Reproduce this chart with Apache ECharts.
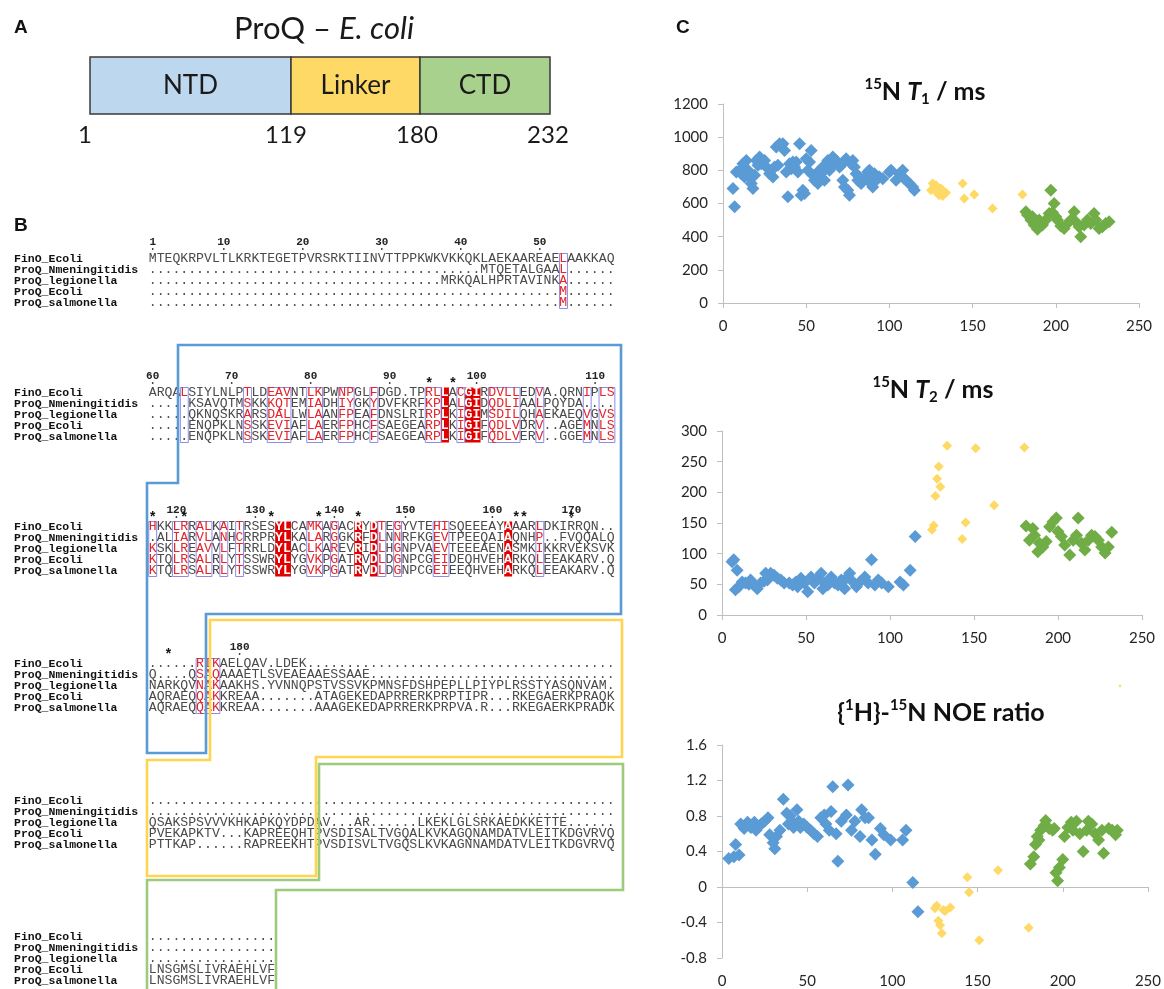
<!DOCTYPE html>
<html><head><meta charset="utf-8">
<script src="https://cdn.jsdelivr.net/npm/echarts/dist/echarts.min.js"></script>
<style>html,body{margin:0;padding:0;background:#fff}#c{width:1164px;height:989px}</style>
</head><body><div id="c"></div>
<script>
// ---------------- DATA ----------------
// Panel A domains
const domainNames = ['NTD', 'Linker', 'CTD'];
const domainLimits = ['1', '119', '180', '232'];
const domainColors = ['#BDD7EE', '#FFD966', '#A9D18E'];

// Panel B alignment
const seqNames = ['FinO_Ecoli', 'ProQ_Nmeningitidis', 'ProQ_legionella', 'ProQ_Ecoli', 'ProQ_salmonella'];
const D10 = '..........';
const blk1 = [
  'MTEQKRPVLTLKRKTEGETPVRSRKTIINVTTPPKWKVKKQKLAEKAAREAELAAKKAQ',
  D10 + D10 + D10 + D10 + '..' + 'MTQETALGAAL' + '......',
  D10 + D10 + D10 + '.......' + 'MRKQALHPRTAVINKA' + '......',
  D10 + D10 + D10 + D10 + D10 + '..' + 'M' + '......',
  D10 + D10 + D10 + D10 + D10 + '..' + 'M' + '......'
];
const blk1Nums = [['1', 1], ['10', 10], ['20', 20], ['30', 30], ['40', 40], ['50', 50]];
const blk1Stars = [];
const blk1Solid = [];
const blk1Boxes = [[53, 53]];

const blk2 = [
  'ARQALSIYLNLPTLDEAVNTLKPWNPGLFDGD.TPRLLACGIRDVLLEDVA.QRNIPLS',
  '.....KSAVQTMSKKKQTEMIADHIYGKYDVFKRFKPLALGIDQDLIAALPQYDA....',
  '.....QKNQSKRARSDALLWLAANFPEAFDNSLRIRPLKIGIMSDILQHAEKAEQVGVS',
  '.....ENQPKLNSSKEVIAFLAERFPHCFSAEGEARPLKIGIFQDLVDRV..AGEMNLS',
  '.....ENQPKLNSSKEVIAFLAERFPHCFSAEGEARPLKIGIFQDLVERV..GGEMNLS'
];
const blk2Nums = [['60', 1], ['70', 11], ['80', 21], ['90', 31], ['100', 42], ['110', 57]];
const blk2Stars = [36, 39];
const blk2Solid = [[38, 38], [41, 42]];
const blk2Boxes = [[5, 5], [13, 13], [16, 18], [21, 22], [25, 26], [29, 29], [36, 37], [40, 40], [44, 47], [50, 50], [56, 56], [58, 59]];

const blk3 = [
  'HKKLRRALKAITRSESYLCAMKAGACRYDTEGYVTEHISQEEEAYAAARLDKIRRQN..',
  '.ALIARVLANHCRRPRYLKALARGGKRFDLNNRFKGEVTPEEQAIAQNHP..FVQQALQ',
  'KSKLREAVVLFTRRLDYLACLKAREVRIDLHGNPVAEVTEEEAENASMKIKKRVEKSVK',
  'KTQLRSALRLYTSSWRYLYGVKPGATRVDLDGNPCGEIDEQHVEHARKQLEEAKARV.Q',
  'KTQLRSALRLYTSSWRYLYGVKPGATRVDLDGNPCGEIEEQHVEHARKQLEEAKARV.Q'
];
const blk3Nums = [['120', 4], ['130', 14], ['140', 24], ['150', 33], ['160', 44], ['170', 54]];
const blk3Stars = [1, 5, 16, 22, 27, 47, 48, 54];
const blk3Solid = [[17, 18], [27, 27], [29, 29], [46, 46]];
const blk3Boxes = [[1, 1], [4, 5], [7, 8], [10, 10], [12, 12], [21, 22], [24, 24], [30, 30], [32, 32], [37, 38], [50, 50]];

const blk4 = [
  '......RIKAELQAV.LDEK' + D10 + D10 + D10 + '.........',
  'Q....QSAQAAAETLSVEAEAAESSAAE' + D10 + D10 + D10 + '.',
  'NARKQVNAKAAKHS.YVNNQPSTVSSVKPMNSFDSHPEPLLPIYPLRSSTYASQNVAM.',
  'AQRAEQQAKKREAA.......ATAGEKEDAPRRERKPRPTIPR...RKEGAERKPRAQK',
  'AQRAEQQAKKREAA.......AAAGEKEDAPRRERKPRPVA.R...RKEGAERKPRADK'
];
const blk4Nums = [['180', 12]];
const blk4Stars = [3];
const blk4Solid = [];
const blk4Boxes = [[7, 9]];

const blk5 = [
  D10 + D10 + D10 + D10 + D10 + '.........',
  D10 + D10 + D10 + D10 + D10 + '.........',
  'QSAKSPSVVVKHKAPKQYDPDAV...AR......LKEKLGLSRKAEDKKETTE......',
  'PVEKAPKTV...KAPREEQHTPVSDISALTVGQALKVKAGQNAMDATVLEITKDGVRVQ',
  'PTTKAP......RAPREEKHTPVSDISVLTVGQSLKVKAGNNAMDATVLEITKDGVRVQ'
];
const blk6 = [
  D10 + '......', D10 + '......', D10 + '......',
  'LNSGMSLIVRAEHLVF', 'LNSGMSLIVRAEHLVF'
];

// Panel C : [residue, value]
const t1Ntd = [[6,690],[7,580],[8,790],[10,800],[11,780],[12,840],[13,760],[14,860],[15,800],[16,760],[17,720],[18,690],[19,770],[20,860],[21,830],[22,880],[23,840],[25,860],[26,820],[28,780],[29,800],[30,760],[31,820],[32,940],[33,830],[34,960],[35,950],[36,960],[37,920],[38,790],[39,640],[40,840],[41,810],[42,850],[43,820],[44,850],[45,790],[46,960],[47,650],[48,680],[49,660],[50,870],[51,800],[52,850],[53,920],[54,770],[55,740],[56,760],[57,720],[58,800],[59,780],[60,820],[61,740],[62,840],[63,860],[64,800],[65,860],[66,880],[67,840],[68,860],[70,820],[71,830],[72,740],[73,700],[74,870],[75,680],[76,650],[77,840],[78,860],[79,820],[80,780],[81,740],[82,760],[83,720],[84,740],[86,760],[87,790],[88,800],[89,720],[90,700],[91,780],[92,740],[93,760],[94,760],[96,750],[100,790],[101,800],[104,740],[106,780],[108,800],[109,750],[110,740],[112,720],[114,700],[115,680]];
const t1Linker = [[125,680],[126,720],[127,700],[128,710],[129,660],[130,650],[131,690],[132,645],[134,665],[144,720],[145,630],[151,655],[162,570],[180,655]];
const t1Ctd = [[182,550],[183,530],[185,500],[186,520],[187,470],[189,445],[190,500],[192,470],[194,500],[196,540],[197,680],[198,545],[199,600],[200,520],[201,500],[203,465],[205,450],[207,480],[209,500],[211,550],[212,490],[214,460],[215,400],[217,470],[219,500],[221,480],[223,540],[224,500],[226,450],[228,460],[230,480],[232,490]];

const t2Ntd = [[6,87],[7,90],[8,41],[9,73],[10,46],[12,54],[14,52],[16,50],[17,57],[19,49],[21,43],[23,52],[25,55],[26,68],[27,57],[29,68],[31,65],[33,60],[35,57],[37,52],[40,52],[42,49],[44,54],[45,46],[47,60],[49,52],[51,38],[53,62],[55,52],[57,60],[59,68],[60,43],[61,52],[63,49],[65,62],[67,52],[69,49],[71,57],[72,46],[73,43],[74,60],[76,68],[78,54],[80,46],[82,54],[85,62],[87,52],[89,90],[91,49],[93,57],[95,52],[99,46],[106,54],[108,49],[112,73],[115,128]];
const t2Linker = [[125,139],[126,146],[127,194],[128,222],[129,242],[130,209],[134,276],[143,124],[145,151],[151,272],[162,179],[180,273]];
const t2Ctd = [[181,145],[183,122],[185,141],[186,130],[188,103],[189,117],[191,111],[193,120],[195,144],[197,152],[199,158],[200,136],[202,128],[204,114],[207,98],[209,122],[211,130],[212,158],[214,117],[216,106],[218,122],[220,130],[222,128],[224,122],[226,111],[228,101],[230,111],[232,135]];

const noeNtd = [[4,0.32],[7,0.34],[8,0.48],[10,0.36],[11,0.71],[13,0.66],[14,0.69],[15,0.73],[17,0.67],[19,0.73],[20,0.64],[21,0.67],[23,0.71],[25,0.74],[27,0.78],[28,0.59],[30,0.50],[31,0.43],[32,0.57],[34,0.64],[36,0.99],[38,0.83],[39,0.71],[40,0.80],[41,0.74],[42,0.67],[44,0.87],[45,0.74],[46,0.67],[48,0.71],[50,0.67],[52,0.64],[54,0.60],[56,0.57],[58,0.78],[60,0.81],[61,0.71],[63,0.64],[64,0.85],[65,1.13],[67,0.60],[68,0.29],[70,0.74],[73,0.81],[74,1.15],[76,0.64],[78,0.74],[81,0.57],[82,0.87],[84,0.78],[86,0.78],[88,0.53],[90,0.37],[93,0.66],[95,0.59],[99,0.53],[106,0.53],[108,0.64],[112,0.05],[115,-0.28]];
const noeLinker = [[125,-0.24],[126,-0.21],[127,-0.38],[128,-0.43],[129,-0.52],[130,-0.26],[131,-0.27],[134,-0.23],[144,0.11],[145,-0.06],[151,-0.60],[162,0.19],[180,-0.46]];
const noeCtd = [[181,0.26],[183,0.34],[184,0.48],[185,0.57],[186,0.53],[187,0.64],[189,0.69],[190,0.75],[192,0.66],[194,0.64],[195,0.66],[196,0.16],[197,0.07],[198,0.22],[200,0.31],[201,0.57],[203,0.67],[205,0.73],[206,0.64],[208,0.74],[210,0.60],[212,0.40],[214,0.64],[215,0.74],[217,0.71],[219,0.60],[221,0.53],[223,0.64],[224,0.38],[227,0.66],[229,0.64],[231,0.59],[232,0.64]];

const xTicks = {min: 0, max: 250, interval: 50};
const t1Axis = {min: 0, max: 1200, interval: 200};
const t2Axis = {min: 0, max: 300, interval: 50};
const noeAxis = {min: -0.8, max: 1.6, interval: 0.4};

// ---------------- LAYOUT ----------------
const MONO = "'Liberation Mono','DejaVu Sans Mono',monospace";
const SANS = "Lato, 'Open Sans', sans-serif";
const ARIAL = "'Liberation Sans', Arial, sans-serif";
const CW = 7.9, X0 = 148.75, ROW = 11, FS = 13.17;
const blockTops = [259, 393, 527, 664, 801, 937];
const g = [];

function colX(c) { return X0 + (c - 0.5) * CW; }
function inR(c, rs) { return rs.some(r => c >= r[0] && c <= r[1]); }

// panel letters
[['A', 14, 28], ['B', 14, 226], ['C', 676, 28]].forEach(p => g.push({
  type: 'text', x: p[1], y: p[2], silent: true,
  style: {text: p[0], fontSize: 19, fontWeight: 'bold', fontFamily: ARIAL, fill: '#111', align: 'left', verticalAlign: 'middle'}
}));

// Panel A
const barEdges = [90, 291, 420, 550];
const barTop = 57, barH = 57;
g.push({type: 'text', x: 324, y: 29, silent: true, style: {
  text: '{n|ProQ – }{i|E. coli}', align: 'center', verticalAlign: 'middle',
  rich: {n: {fontSize: 31, fontFamily: SANS, fill: '#1a1a1a'}, i: {fontSize: 31, fontFamily: SANS, fontStyle: 'italic', fill: '#1a1a1a'}}
}});
domainNames.forEach((nm, i) => {
  g.push({type: 'rect', silent: true, shape: {x: barEdges[i], y: barTop, width: barEdges[i + 1] - barEdges[i], height: barH},
    style: {fill: domainColors[i], stroke: '#3a3a3a', lineWidth: 1.5}});
  g.push({type: 'text', silent: true, x: (barEdges[i] + barEdges[i + 1]) / 2, y: barTop + barH / 2,
    style: {text: nm, fontSize: 26, fontFamily: SANS, fill: '#1a1a1a', align: 'center', verticalAlign: 'middle'}});
});
domainLimits.forEach((t, i) => g.push({type: 'text', silent: true, x: [85, 286, 417, 548][i], y: 135,
  style: {text: t, fontSize: 24, fontFamily: SANS, fill: '#1a1a1a', align: 'center', verticalAlign: 'middle'}}));

// Panel B domain outlines
const outlines = [
  {c: '#5B9BD5', p: [[178,345],[621,345],[621,614],[206,614],[206,753],[147,753],[147,483],[178,483]]},
  {c: '#FFD54F', p: [[210,620],[622,620],[622,757],[316,757],[316,876],[147,876],[147,760],[210,760]]},
  {c: '#9CCB7C', p: [[319,764],[623,764],[623,890],[276,890],[276,999],[147,999],[147,880],[319,880]]}
];

function richRow(str, solid, boxes) {
  let out = '', cur = null, buf = '';
  for (let i = 0; i < str.length; i++) {
    const c = i + 1, ch = str[i];
    const t = inR(c, solid) ? 'w' : (inR(c, boxes) && ch !== '.' ? 'r' : 'n');
    if (t !== cur) { if (buf) out += '{' + cur + '|' + buf + '}'; buf = ''; cur = t; }
    buf += ch;
  }
  if (buf) out += '{' + cur + '|' + buf + '}';
  return out;
}
const richStyles = {
  n: {fontSize: FS, fontFamily: MONO, fontWeight: 'normal', fill: '#4a4a4a'},
  r: {fontSize: FS, fontFamily: MONO, fontWeight: 'normal', fill: '#e3262b'},
  w: {fontSize: FS, fontFamily: MONO, fontWeight: 'bold', fill: '#ffffff'}
};

function drawBlock(top, rows, nums, stars, solid, boxes) {
  const y0 = top - ROW / 2, h = ROW * rows.length;
  solid.forEach(r => g.push({type: 'rect', silent: true, z: 1,
    shape: {x: X0 + (r[0] - 1) * CW, y: y0, width: (r[1] - r[0] + 1) * CW, height: h},
    style: {fill: '#e00000'}}));
  boxes.forEach(r => g.push({type: 'rect', silent: true, z: 2,
    shape: {x: X0 + (r[0] - 1) * CW, y: y0, width: (r[1] - r[0] + 1) * CW, height: h},
    style: {fill: 'none', stroke: '#8c8ce6', lineWidth: 1}}));
  rows.forEach((s, i) => {
    g.push({type: 'text', silent: true, z: 3, x: 14, y: top + i * ROW,
      style: {text: seqNames[i], fontSize: 11.5, fontWeight: 'bold', fontFamily: MONO, fill: '#111', align: 'left', verticalAlign: 'middle'}});
    g.push({type: 'text', silent: true, z: 3, x: X0, y: top + i * ROW,
      style: {text: richRow(s, solid, boxes), rich: richStyles, fontSize: FS, fontFamily: MONO, fill: '#4a4a4a', align: 'left', verticalAlign: 'middle'}});
  });
  nums.forEach(n => {
    g.push({type: 'text', silent: true, z: 3, x: colX(n[1]), y: top - 17,
      style: {text: n[0], fontSize: 11, fontWeight: 'bold', fontFamily: MONO, fill: '#222', align: 'center', verticalAlign: 'middle'}});
    g.push({type: 'circle', silent: true, z: 3, shape: {cx: colX(n[1]), cy: top - 10, r: 0.9}, style: {fill: '#333'}});
  });
  stars.forEach(c => g.push({type: 'text', silent: true, z: 3, x: colX(c), y: top - 9,
    style: {text: '*', fontSize: 14, fontWeight: 'bold', fontFamily: MONO, fill: '#111', align: 'center', verticalAlign: 'middle'}}));
}
drawBlock(blockTops[0], blk1, blk1Nums, blk1Stars, blk1Solid, blk1Boxes);
drawBlock(blockTops[1], blk2, blk2Nums, blk2Stars, blk2Solid, blk2Boxes);
drawBlock(blockTops[2], blk3, blk3Nums, blk3Stars, blk3Solid, blk3Boxes);
drawBlock(blockTops[3], blk4, blk4Nums, blk4Stars, blk4Solid, blk4Boxes);
drawBlock(blockTops[4], blk5, [], [], [], []);
drawBlock(blockTops[5], blk6, [], [], [], []);

outlines.forEach(o => g.push({type: 'polygon', silent: true, z: 5, shape: {points: o.p},
  style: {fill: 'none', stroke: o.c, lineWidth: 2.6}}));

// Panel C titles
const TF = 25, TS = 15;
const tRich = {
  b: {fontSize: TF, fontWeight: 'bold', fontFamily: SANS, fill: '#111', lineHeight: 30, verticalAlign: 'middle'},
  i: {fontSize: TF, fontWeight: 'bold', fontStyle: 'italic', fontFamily: SANS, fill: '#111', lineHeight: 30, verticalAlign: 'middle'},
  s: {fontSize: TS, fontWeight: 'bold', fontFamily: SANS, fill: '#111', lineHeight: 17, verticalAlign: 'top'},
  d: {fontSize: TS, fontWeight: 'bold', fontFamily: SANS, fill: '#111', lineHeight: 15, verticalAlign: 'bottom'}
};
[['{s|15}{b|N }{i|T}{d|1}{b| / ms}', 925, 92],
 ['{s|15}{b|N }{i|T}{d|2}{b| / ms}', 933, 390],
 ['{b|{}{s|1}{b|H}}-{s|15}{b|N NOE ratio}', 941, 713]].forEach(t => g.push({
  type: 'text', silent: true, x: t[1], y: t[2],
  style: {text: t[0], rich: tRich, align: 'center', verticalAlign: 'middle',
    fontSize: TF, fontWeight: 'bold', fontFamily: SANS, fill: '#111', lineHeight: 30}
}));
g.push({type: 'circle', silent: true, shape: {cx: 1120, cy: 686, r: 1.3}, style: {fill: '#FFD966'}});

// ---------------- CHART ----------------
const axisCommon = {
  type: 'value',
  axisLine: {show: true, lineStyle: {color: '#bfbfbf', width: 1}},
  axisTick: {show: true, length: 5, lineStyle: {color: '#bfbfbf'}},
  splitLine: {show: false},
  axisLabel: {color: '#262626', fontSize: 15, fontFamily: SANS, margin: 16}
};
const grids = [
  {left: 723, top: 104, width: 416, height: 199},
  {left: 722, top: 431, width: 420, height: 184},
  {left: 722, top: 745, width: 428, height: 228}
];
const yRanges = [t1Axis, t2Axis, noeAxis];
const cols = {ntd: '#5B9BD5', lnk: '#FFD966', ctd: '#70AD47'};
const sets = [[t1Ntd, t1Linker, t1Ctd], [t2Ntd, t2Linker, t2Ctd], [noeNtd, noeLinker, noeCtd]];
const series = [];
sets.forEach((s, i) => {
  [['ntd', 13], ['lnk', 10], ['ctd', 13]].forEach((k, j) => series.push({
    type: 'scatter', xAxisIndex: i, yAxisIndex: i, data: s[j], symbol: 'diamond', symbolSize: k[1],
    itemStyle: {color: cols[k[0]], opacity: 1}, silent: true
  }));
});

const chart = echarts.init(document.getElementById('c'), null, {renderer: 'canvas'});
chart.setOption({
  animation: false,
  backgroundColor: '#fff',
  grid: grids,
  xAxis: grids.map((gr, i) => Object.assign({}, axisCommon, {gridIndex: i, min: xTicks.min, max: xTicks.max, interval: xTicks.interval,
    axisLine: {show: true, onZero: true, lineStyle: {color: '#bfbfbf', width: 1}}})),
  yAxis: grids.map((gr, i) => Object.assign({}, axisCommon, {gridIndex: i, min: yRanges[i].min, max: yRanges[i].max, interval: yRanges[i].interval,
    axisLabel: {color: '#262626', fontSize: 15, fontFamily: SANS, margin: 15, formatter: v => String(+(+v).toFixed(1))}})),
  series: series,
  graphic: {elements: g}
});
</script></body></html>
